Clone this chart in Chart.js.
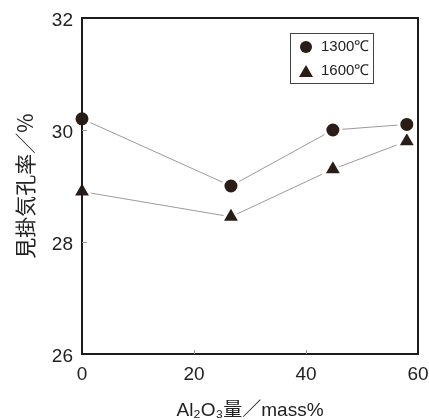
<!DOCTYPE html>
<html>
<head>
<meta charset="utf-8">
<script src="https://cdn.jsdelivr.net/npm/chart.js@4"></script>
<style>
  html, body { margin: 0; padding: 0; background: #fff; }
</style>
</head>
<body>
<canvas id="porosityChart" width="429" height="420"></canvas>
<script>
// Al2O3 content (mass%) and apparent porosity (%)
var alumina = [0, 26.6, 44.8, 58];
var porosity1300 = [30.2, 29.0, 30.0, 30.1];
var porosity1600 = [28.9, 28.45, 29.3, 29.8];
var seriesLabels = ['1300℃', '1600℃'];
var xTicks = [0, 20, 40, 60];
var yTicks = [26, 28, 30, 32];

var ink = '#2a1c16';

function toPoints(ys) {
    return alumina.map(function (x, i) { return { x: x, y: ys[i] }; });
}

// frame, inward ticks and the boxed legend
var framePlugin = {
    id: 'frame',
    afterDraw: function (chart) {
        var c = chart.ctx, a = chart.chartArea;
        var xs = chart.scales.x, ys = chart.scales.y;
        c.save();
        c.strokeStyle = '#1c1c1c';
        c.lineWidth = 2;
        c.strokeRect(a.left, a.top, a.right - a.left, a.bottom - a.top);
        c.lineWidth = 1;
        c.strokeStyle = '#999';
        xTicks.slice(1, -1).forEach(function (v) {
            var px = Math.round(xs.getPixelForValue(v)) + 0.5;
            c.beginPath(); c.moveTo(px, a.bottom); c.lineTo(px, a.bottom - 4); c.stroke();
        });
        yTicks.slice(1, -1).forEach(function (v) {
            var py = Math.round(ys.getPixelForValue(v)) + 0.5;
            c.beginPath(); c.moveTo(a.left, py); c.lineTo(a.left + 5, py); c.stroke();
        });

        // legend
        var bx = a.right - 128, by = a.top + 15, bw = 83, bh = 50;
        c.strokeStyle = '#444';
        c.lineWidth = 1;
        c.strokeRect(bx + 0.5, by + 0.5, bw, bh);
        c.fillStyle = ink;
        c.beginPath(); c.arc(bx + 16, by + 14, 6, 0, Math.PI * 2); c.fill();
        c.beginPath();
        c.moveTo(bx + 16, by + 32); c.lineTo(bx + 23, by + 44); c.lineTo(bx + 9, by + 44);
        c.closePath(); c.fill();
        c.font = '15px "Liberation Sans", Arial, sans-serif';
        c.textBaseline = 'middle';
        c.fillStyle = '#222';
        c.fillText(seriesLabels[0], bx + 31, by + 14);
        c.fillText(seriesLabels[1], bx + 31, by + 38);
        c.restore();
    }
};

var ctx = document.getElementById('porosityChart').getContext('2d');
var porosityChart = new Chart(ctx, {
    type: 'line',
    plugins: [framePlugin],
    data: {
        datasets: [{
            label: seriesLabels[0],
            data: toPoints(porosity1300),
            borderColor: '#9a9a9a',
            borderWidth: 1,
            pointStyle: 'circle',
            pointRadius: 8,
            pointBackgroundColor: ink,
            pointBorderColor: '#fff',
            pointBorderWidth: 3,
            clip: false
        }, {
            label: seriesLabels[1],
            data: toPoints(porosity1600),
            borderColor: '#9a9a9a',
            borderWidth: 1,
            pointStyle: 'triangle',
            pointRadius: 11,
            pointBackgroundColor: ink,
            pointBorderColor: '#fff',
            pointBorderWidth: 3,
            clip: false
        }]
    },
    options: {
        responsive: false,
        animation: false,
        events: [],
        layout: { autoPadding: false, padding: { top: 18, right: 11, left: 0, bottom: 0 } },
        plugins: { legend: { display: false }, tooltip: { enabled: false } },
        scales: {
            x: {
                type: 'linear',
                min: 0, max: 60,
                afterBuildTicks: function (s) { s.ticks = xTicks.map(function (v) { return { value: v }; }); },
                afterFit: function (s) { s.height = 66; s.paddingLeft = 0; s.paddingRight = 0; },
                grid: { display: false, drawTicks: false },
                border: { display: false },
                ticks: { color: '#222', padding: 9, font: { size: 19, family: '"Liberation Sans", Arial, sans-serif' } },
                title: {
                    display: true,
                    text: 'Al₂O₃量／mass%',
                    color: '#222',
                    padding: { top: 2, bottom: 0 },
                    font: { size: 19, lineHeight: 1, family: '"Liberation Sans", "Noto Sans CJK JP", sans-serif' }
                }
            },
            y: {
                min: 26, max: 32,
                afterBuildTicks: function (s) { s.ticks = yTicks.map(function (v) { return { value: v }; }); },
                afterFit: function (s) { s.width = 82; s.paddingTop = 0; s.paddingBottom = 0; },
                grid: { display: false, drawTicks: false },
                border: { display: false },
                ticks: { color: '#222', padding: 9, labelOffset: 3, font: { size: 19, family: '"Liberation Sans", Arial, sans-serif' } },
                title: {
                    display: true,
                    text: '見掛気孔率／%',
                    color: '#222',
                    padding: { top: 12, bottom: 0 },
                    font: { size: 21, family: '"Noto Sans CJK JP", sans-serif' }
                }
            }
        }
    }
});
</script>
</body>
</html>
